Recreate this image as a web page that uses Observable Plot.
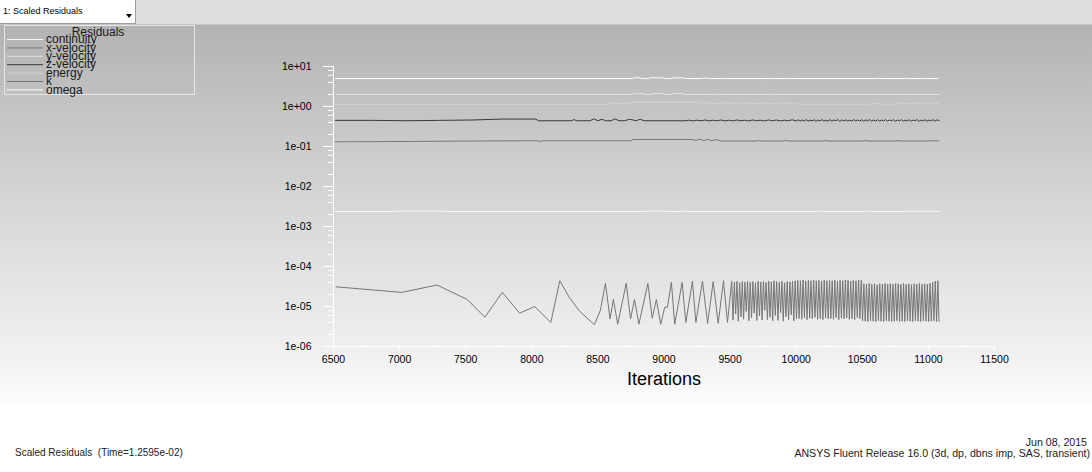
<!DOCTYPE html>
<html>
<head>
<meta charset="utf-8">
<script src="https://cdn.jsdelivr.net/npm/d3@7"></script>
<script src="https://cdn.jsdelivr.net/npm/@observablehq/plot@0.6"></script>
<style>
  html, body { margin:0; padding:0; background:#fff; }
  #page { position:relative; width:1092px; height:472px; overflow:hidden; background:#fff; font-family:"Liberation Sans", Arial, sans-serif; color:#111; }
  #topbar { position:absolute; left:0; top:0; width:1092px; height:24px; background:#dedede; border-bottom:1px solid #c6c6c6; }
  #dropdown { position:absolute; left:0; top:0; width:135px; height:23px; background:#fff; border-right:1px solid #9c9c9c; border-bottom:1px solid #9c9c9c; font-size:9px; line-height:23px; color:#000; }
  #dropdown .label { position:absolute; left:3px; top:0; white-space:pre; }
  #dropdown .arrow { position:absolute; left:126px; top:14px; width:0; height:0; border-left:3px solid transparent; border-right:3px solid transparent; border-top:4px solid #000; }
  #bg { position:absolute; left:0; top:25px; width:1092px; height:382px; background:linear-gradient(to bottom, #b3b3b3 0%, #d5d5d5 45%, #f0f0f0 85%, #fdfdfd 100%); }
  #chart { position:absolute; left:0; top:25px; }
  #legend { position:absolute; left:4px; top:25px; }
  .cap { position:absolute; font-size:10.6px; line-height:12px; white-space:pre; color:#222; }
</style>
</head>
<body>
<div id="page">
  <div id="topbar"><div id="dropdown"><span class="label"></span><span class="arrow"></span></div></div>
  <div id="bg"></div>
  <div id="chart"></div>
  <div id="legend"></div>
  <div class="cap" id="capLeft" style="left:15px; top:447px; font-size:10px;"></div>
  <div class="cap" id="capDate" style="right:5px; top:436px; text-align:right;"></div>
  <div class="cap" id="capRelease" style="right:2px; top:447px; text-align:right;"></div>
</div>
<script>
// ---------- texts ----------
const dropdownText = "1: Scaled Residuals";
const legendTitle = "Residuals";
const xLabel = "Iterations";
const captionLeft = "Scaled Residuals  (Time=1.2595e-02)";
const captionDate = "Jun 08, 2015";
const captionRelease = "ANSYS Fluent Release 16.0 (3d, dp, dbns imp, SAS, transient)";

// ---------- legend / series ----------
const legendNames  = ["continuity", "x-velocity", "y-velocity", "z-velocity", "energy", "k", "omega"];
const legendColors = ["#f6f6f6", "#777777", "#e2e2e2", "#3a3a3a", "#d2d2d2", "#767676", "#ffffff"];

// ---------- ticks ----------
const xMajorTicks = [6500, 7000, 7500, 8000, 8500, 9000, 9500, 10000, 10500, 11000, 11500];
const xMinorTicks = [6750, 7250, 7750, 8250, 8750, 9250, 9750, 10250, 10750, 11250];
const yMajorTicks = [1e-6, 1e-5, 1e-4, 1e-3, 1e-2, 1e-1, 1e0, 1e1];
const yMinorTicks = [2e-6, 4e-6, 6e-6, 8e-6, 2e-5, 4e-5, 6e-5, 8e-5, 2e-4, 4e-4, 6e-4, 8e-4,
                     2e-3, 4e-3, 6e-3, 8e-3, 2e-2, 4e-2, 6e-2, 8e-2, 2e-1, 4e-1, 6e-1, 8e-1,
                     2, 4, 6, 8];

// ---------- series data: [iteration, residual] ----------
const omega = [[6515,5.0],[8760,5.0],[8775,5.25],[8820,5.2],[8835,5.0],[8880,5.0],[8895,5.25],[8990,5.2],
  [9005,5.0],[9050,5.0],[9060,5.2],[9150,5.2],[9165,5.0],[9290,5.0],[9300,5.15],[9340,5.1],[9350,5.0],
  [9420,5.0],[9440,5.1],[9450,5.0],[9780,5.0],[9790,5.1],[9800,5.0],[9950,5.0],[9960,5.1],[9970,5.0],
  [10620,5.0],[10630,5.15],[10640,5.0],[10820,5.0],[10830,5.15],[10840,5.0],[10960,5.0],[10970,5.12],
  [10980,5.0],[11075,5.0],[11080,5.2]];

const yVelocity = [[6515,2.0],[8760,2.0],[8775,2.1],[8850,2.1],[8860,2.0],[8900,2.0],[8910,2.1],[9000,2.1],
  [9010,2.0],[9060,2.0],[9070,2.1],[9140,2.1],[9150,2.0],[9400,2.0],[9410,2.08],[9420,2.0],[9780,2.0],
  [9790,2.08],[9800,2.0],[11080,2.0]];

const energy = [[6515,1.12],[8580,1.12],[8590,1.2],[8740,1.2],[8750,1.28],[9270,1.28],[9300,1.2],[9350,1.26],
  [9400,1.16],[9450,1.25],[9500,1.17],[9550,1.26],[9600,1.15],[9650,1.24],[9700,1.16],[9750,1.25],
  [9800,1.15],[9850,1.22],[9900,1.15],[9950,1.23],[10010,1.14],[10550,1.14],[10600,1.2],[10650,1.14],
  [10750,1.14],[10800,1.22],[10850,1.15],[10900,1.23],[10950,1.14],[11000,1.22],[11040,1.15],[11080,1.22]];

const zVelocity = [[6515,0.45],[6800,0.45],[7050,0.44],[7300,0.45],[7550,0.46],[7780,0.485],[8030,0.485],
  [8050,0.44],[8300,0.44],[8320,0.47],[8340,0.44],[8440,0.44],[8470,0.49],[8500,0.44],[8530,0.48],
  [8560,0.44],[8600,0.44],[8630,0.49],[8660,0.44],[8700,0.44],[8740,0.48],[8790,0.44],[8820,0.48],
  [8850,0.44],[9000,0.44],[9160,0.44],[9190,0.455],[9220,0.435],[9250,0.455],[9280,0.44],[9310,0.46],
  [9340,0.435],[9370,0.455],[9400,0.44],[9430,0.46],[9460,0.435],[9490,0.455],[9520,0.435],[9550,0.46],
  [9580,0.44],[9610,0.455],[9640,0.435],[9670,0.46],[9700,0.44],[9730,0.455],[9760,0.435],[9790,0.46],
  [9820,0.44],[9850,0.46],[9880,0.435],[9910,0.455],[9940,0.44],[9970,0.465],[10000,0.435],
  [10015,0.465],[10030,0.43],[10045,0.46],[10060,0.435],[10075,0.47],[10090,0.43],[10105,0.455],[10120,0.44],
  [10135,0.465],[10150,0.425],[10165,0.46],[10180,0.435],[10195,0.47],[10210,0.43],[10225,0.455],[10240,0.435],
  [10255,0.465],[10270,0.43],[10285,0.46],[10300,0.44],[10315,0.47],[10330,0.425],[10345,0.46],[10360,0.435],
  [10375,0.465],[10390,0.43],[10405,0.455],[10420,0.435],[10435,0.47],[10450,0.43],[10465,0.46],[10480,0.435],
  [10495,0.465],[10510,0.425],[10525,0.46],[10540,0.44],[10555,0.47],[10570,0.43],[10585,0.455],[10600,0.435],
  [10615,0.465],[10630,0.43],[10645,0.46],[10660,0.435],[10675,0.47],[10690,0.43],[10705,0.46],[10720,0.44],
  [10735,0.465],[10750,0.425],[10765,0.46],[10780,0.435],[10795,0.47],[10810,0.43],[10825,0.455],[10840,0.435],
  [10855,0.465],[10870,0.43],[10885,0.46],[10900,0.44],[10915,0.47],[10930,0.425],[10945,0.46],[10960,0.435],
  [10975,0.465],[10990,0.43],[11005,0.46],[11020,0.435],[11035,0.47],[11050,0.43],[11065,0.465],[11080,0.445]];

const xVelocity = [[6515,0.131],[6800,0.132],[7100,0.134],[7400,0.136],[7700,0.138],[8050,0.139],[8066,0.131],
  [8080,0.139],[8750,0.139],[8765,0.150],[9210,0.150],[9240,0.142],[9270,0.152],[9300,0.141],[9330,0.150],
  [9360,0.140],[9400,0.148],[9430,0.137],[9700,0.137],[9720,0.141],[9740,0.137],[9900,0.137],[9920,0.142],
  [9940,0.137],[10200,0.137],[10220,0.141],[10240,0.137],[10500,0.137],[10520,0.141],[10540,0.137],
  [10750,0.137],[10770,0.141],[10790,0.137],[11000,0.137],[11020,0.141],[11040,0.137],[11080,0.139]];

const continuity = [[6515,2.37e-3],[6980,2.37e-3],[6990,2.42e-3],[7320,2.42e-3],[7330,2.37e-3],[8870,2.37e-3],
  [8880,2.42e-3],[9000,2.42e-3],[9010,2.37e-3],[9150,2.37e-3],[9160,2.45e-3],[9190,2.37e-3],[10150,2.37e-3],
  [10160,2.43e-3],[10170,2.37e-3],[10550,2.37e-3],[10560,2.43e-3],[10570,2.37e-3],[10830,2.37e-3],
  [10850,2.44e-3],[10880,2.36e-3],[10920,2.44e-3],[10960,2.36e-3],[11000,2.43e-3],[11080,2.37e-3]];

const kResidual = [[6520,3.1e-5],[7017,2.25e-5],[7283,3.45e-5],[7511,1.5e-5],[7645,5.4e-6],[7777,2.25e-5],
  [7908,6.8e-6],[8022,1.0e-5],[8144,4.0e-6],[8212,4.4e-5],[8283,1.7e-5],[8359,7.8e-6],[8473,3.5e-6],
  [8519,8.1e-6],[8557,3.8e-5],[8592,4.9e-6],[8617,1.5e-5],[8650,3.6e-6],[8714,3.8e-5],[8747,4.9e-6],
  [8777,1.5e-5],[8810,3.6e-6],[8878,3.8e-5],[8911,5.1e-6],[8942,1.5e-5],[8975,3.6e-6],[9005,9.5e-6],
  [9025,9.5e-6],[9056,4.0e-5],[9081,3.6e-6],[9137,4.0e-5],[9165,4.0e-6],[9215,4.3e-5],[9241,4.0e-6],
  [9291,4.3e-5],[9330,3.8e-6],[9372,4.2e-5],[9410,3.8e-6],[9450,4.4e-5],[9480,4.0e-6],
  [9512,4.2e-5],[9522,4.6e-6],[9532,4.0e-5],[9542,6.5e-6],[9552,4.3e-5],[9562,4.3e-6],[9572,3.9e-5],[9582,5.5e-6],
  [9592,4.2e-5],[9602,4.8e-6],[9612,4.1e-5],[9622,7.5e-6],[9632,4.3e-5],[9642,4.4e-6],[9652,4.0e-5],[9662,5.2e-6],
  [9672,4.2e-5],[9682,6.8e-6],[9692,3.9e-5],[9702,4.5e-6],[9712,4.3e-5],[9722,5.8e-6],[9732,4.1e-5],[9742,4.6e-6],
  [9752,4.2e-5],[9762,8.0e-6],[9772,4.0e-5],[9782,4.7e-6],[9792,4.3e-5],[9802,5.4e-6],[9812,4.1e-5],[9822,4.4e-6],
  [9832,4.4e-5],[9842,6.0e-6],[9852,4.2e-5],[9862,4.5e-6],[9872,4.0e-5],[9882,7.0e-6],[9892,4.3e-5],[9902,4.3e-6],
  [9912,3.9e-5],[9922,5.6e-6],[9932,4.2e-5],[9942,4.6e-6],[9952,4.1e-5],[9962,6.2e-6],[9972,4.3e-5],[9982,4.4e-6],
  [9992,4.4e-5],[10002,5.0e-6],[10012,4.5e-5],[10022,5.0e-6],[10032,4.4e-5],[10042,4.8e-6],[10052,4.6e-5],[10062,5.3e-6],
  [10072,4.3e-5],[10082,4.7e-6],[10092,4.5e-5],[10102,5.1e-6],[10112,4.4e-5],[10122,4.9e-6],[10132,4.6e-5],[10142,5.4e-6],
  [10152,4.4e-5],[10162,4.8e-6],[10172,4.5e-5],[10182,5.0e-6],[10192,4.3e-5],[10202,4.7e-6],[10212,4.6e-5],[10222,5.2e-6],
  [10232,4.4e-5],[10242,4.9e-6],[10252,4.5e-5],[10262,5.0e-6],[10272,4.4e-5],[10282,4.8e-6],[10292,4.6e-5],[10302,5.3e-6],
  [10312,4.3e-5],[10322,4.7e-6],[10332,4.5e-5],[10342,5.1e-6],[10352,4.4e-5],[10362,4.9e-6],[10372,4.6e-5],[10382,5.2e-6],
  [10392,4.5e-5],[10402,4.8e-6],[10412,4.3e-5],[10422,5.0e-6],[10432,4.5e-5],[10442,4.7e-6],[10452,4.4e-5],[10462,5.3e-6],
  [10472,4.6e-5],[10482,4.9e-6],[10492,4.5e-5],[10502,4.4e-6],
  [10512,3.7e-5],[10522,4.3e-6],[10532,3.6e-5],[10542,4.2e-6],[10552,3.8e-5],[10562,4.4e-6],[10572,3.6e-5],[10582,4.3e-6],
  [10592,3.7e-5],[10602,4.2e-6],[10612,3.5e-5],[10622,4.4e-6],[10632,3.7e-5],[10642,4.3e-6],[10652,3.6e-5],[10662,4.2e-6],
  [10672,3.8e-5],[10682,4.4e-6],[10692,3.6e-5],[10702,4.3e-6],[10712,3.7e-5],[10722,4.2e-6],[10732,3.6e-5],[10742,4.3e-6],
  [10752,3.8e-5],[10762,4.4e-6],[10772,3.7e-5],[10782,4.2e-6],[10792,3.6e-5],[10802,4.3e-6],[10812,3.8e-5],[10822,4.2e-6],
  [10832,3.6e-5],[10842,4.4e-6],[10852,3.7e-5],[10862,4.3e-6],[10872,3.5e-5],[10882,4.2e-6],[10892,3.7e-5],[10902,4.4e-6],
  [10912,3.6e-5],[10922,4.3e-6],[10932,3.8e-5],[10942,4.2e-6],[10952,3.6e-5],[10962,4.4e-6],[10972,3.7e-5],[10982,4.3e-6],
  [10992,3.6e-5],[11002,4.2e-6],[11012,3.8e-5],[11022,4.3e-6],[11032,4.0e-5],[11042,4.4e-6],[11052,4.3e-5],[11062,4.2e-6],
  [11072,4.4e-5],[11080,4.3e-6]];

// draw order (back to front)
const drawOrder = [["k", kResidual], ["continuity", continuity], ["x-velocity", xVelocity],
                   ["z-velocity", zVelocity], ["energy", energy], ["y-velocity", yVelocity], ["omega", omega]];

// ---------- build ----------
const rows = [];
for (const [name, pts] of drawOrder) for (const [iter, value] of pts) rows.push({series: name, iter, value});

const fmtExp = d => {
  const e = Math.round(Math.log10(d));
  return "1e" + (e < 0 ? "-" : "+") + String(Math.abs(e)).padStart(2, "0");
};

const chart = Plot.plot({
  width: 1092,
  height: 375,
  marginLeft: 333,
  marginRight: 98,
  marginTop: 41,
  marginBottom: 54,
  style: {background: "transparent", fontFamily: "'Liberation Sans', Arial, sans-serif", fontSize: "10.5px", color: "#000", overflow: "visible"},
  x: {domain: [6500, 11500], label: null},
  y: {type: "log", domain: [1e-6, 1e1], label: null},
  color: {domain: legendNames, range: legendColors},
  marks: [
    Plot.ruleX([6500], {stroke: "#ffffff"}),
    Plot.ruleY([1e-6], {stroke: "#ffffff"}),
    Plot.axisY(yMinorTicks, {tickSize: 5, tickFormat: () => "", stroke: "#ffffff", label: null}),
    Plot.axisY(yMajorTicks, {tickSize: 10, tickPadding: 12, tickFormat: fmtExp, stroke: "#ffffff", fill: "#000", label: null}),
    Plot.axisX(xMinorTicks, {tickSize: 2, tickFormat: () => "", stroke: "#ffffff", label: null}),
    Plot.axisX(xMajorTicks, {tickSize: 4, tickPadding: 5, tickFormat: d => String(d), stroke: "#ffffff", fill: "#000", label: null}),
    Plot.line(rows, {x: "iter", y: "value", z: "series", stroke: "series", strokeWidth: 1}),
    Plot.text([xLabel], {frameAnchor: "bottom", dy: 38, fontSize: 18, fill: "#000", text: d => d})
  ]
});
document.getElementById("chart").appendChild(chart);

// ---------- legend ----------
const ns = "http://www.w3.org/2000/svg";
const lg = document.createElementNS(ns, "svg");
lg.setAttribute("width", 192); lg.setAttribute("height", 72);
lg.style.fontFamily = "'Liberation Sans', Arial, sans-serif";
let html = `<rect x="0.5" y="0.5" width="190" height="69" fill="none" stroke="#e6e6e6"/>`;
html += `<text x="94" y="11" text-anchor="middle" font-size="12" fill="#1a1a1a">${legendTitle}</text>`;
legendNames.forEach((n, i) => {
  const y = 14.5 + 8.4 * i;
  html += `<line x1="3" x2="39" y1="${y}" y2="${y}" stroke="${legendColors[i]}" stroke-width="1"/>`;
  html += `<text x="42" y="${y + 3.6}" font-size="12" fill="#1a1a1a">${n}</text>`;
});
lg.innerHTML = html;
document.getElementById("legend").appendChild(lg);

// ---------- captions ----------
document.querySelector("#dropdown .label").textContent = dropdownText;
document.getElementById("capLeft").textContent = captionLeft;
document.getElementById("capDate").textContent = captionDate;
document.getElementById("capRelease").textContent = captionRelease;
</script>
</body>
</html>
